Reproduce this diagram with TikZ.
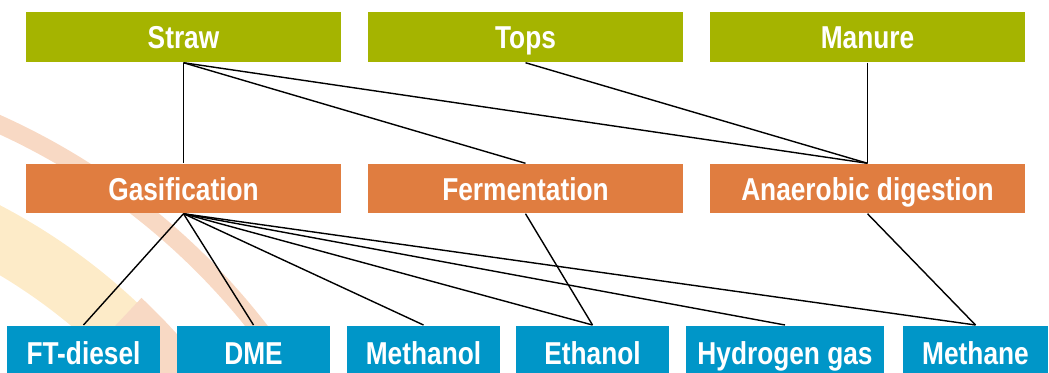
\documentclass[tikz,border=0pt]{standalone}
\usepackage{fontspec}
\newfontfamily\boxfont{Liberation Sans}[FakeStretch=0.83]
\usetikzlibrary{calc}
\definecolor{feedgreen}{RGB}{165,180,0}
\definecolor{procorange}{RGB}{224,125,64}
\definecolor{prodblue}{RGB}{0,150,200}
\definecolor{ringpeach}{RGB}{248,217,196}
\definecolor{ringyellow}{RGB}{253,235,200}
\tikzset{
  chain box/.style={
    inner sep=0pt,
    text=white,
    text height=6.8pt,
    text depth=0pt,
    font=\boxfont\fontsize{9}{10}\selectfont\bfseries
  },
  feed/.style={chain box,fill=feedgreen,minimum width=3.15cm,minimum height=0.5cm},
  process/.style={chain box,fill=procorange,minimum width=3.15cm,minimum height=0.49cm},
  product/.style={chain box,fill=prodblue,anchor=north,minimum height=0.54cm},
  link/.style={line width=0.4pt,draw=black}
}

\begin{document}
\begin{tikzpicture}[x=0.01cm,y=-0.01cm]
  \useasboundingbox (0,0) rectangle (1049,372);
  \clip (0,0) rectangle (1049,372);

  \coordinate (ring) at (-285,752);
  \draw[ringyellow,line width=17.4pt]
    ($(ring)+(-72:586)$) arc[start angle=-72,end angle=-30,radius=586];
  \fill[ringpeach]
    ($(ring)+(-46.8:560)$) -- ($(ring)+(-46.8:623)$)
    arc[start angle=-46.8,end angle=-30,radius=623]
    -- ($(ring)+(-30:560)$)
    arc[start angle=-30,end angle=-46.8,radius=560] -- cycle;
  \draw[ringpeach,line width=5.1pt]
    ($(ring)+(-75:689)$) arc[start angle=-75,end angle=-30,radius=689];

  \node[feed] (straw) at (183.5,37) {Straw};
  \node[feed] (tops) at (525.5,37) {Tops};
  \node[feed] (manure) at (867.5,37) {Manure};

  \node[process] (gasif) at (183.5,188.5) {Gasification};
  \node[process] (ferm) at (525.5,188.5) {Fermentation};
  \node[process] (anaer) at (867.5,188.5) {Anaerobic digestion};

  \node[product,minimum width=1.53cm] (ftdiesel) at (83.5,325) {FT-diesel};
  \node[product,minimum width=1.53cm] (dme) at (253.5,325) {DME};
  \node[product,minimum width=1.53cm] (methanol) at (423.5,325) {Methanol};
  \node[product,minimum width=1.53cm] (ethanol) at (592.5,325) {Ethanol};
  \node[product,minimum width=1.98cm] (hydrogen) at (785,325) {Hydrogen gas};
  \node[product,minimum width=1.45cm] (methane) at (975.5,325) {Methane};

  \draw[link] (straw.south) -- (gasif.north);
  \draw[link] (straw.south) -- (ferm.north);
  \draw[link] (straw.south) -- (anaer.north);
  \draw[link] (tops.south) -- (anaer.north);
  \draw[link] (manure.south) -- (anaer.north);

  \foreach \prod in {ftdiesel,dme,methanol,ethanol,hydrogen,methane}
    \draw[link] (gasif.south) -- (\prod.north);
  \draw[link] (ferm.south) -- (ethanol.north);
  \draw[link] (anaer.south) -- (methane.north);
\end{tikzpicture}
\end{document}
